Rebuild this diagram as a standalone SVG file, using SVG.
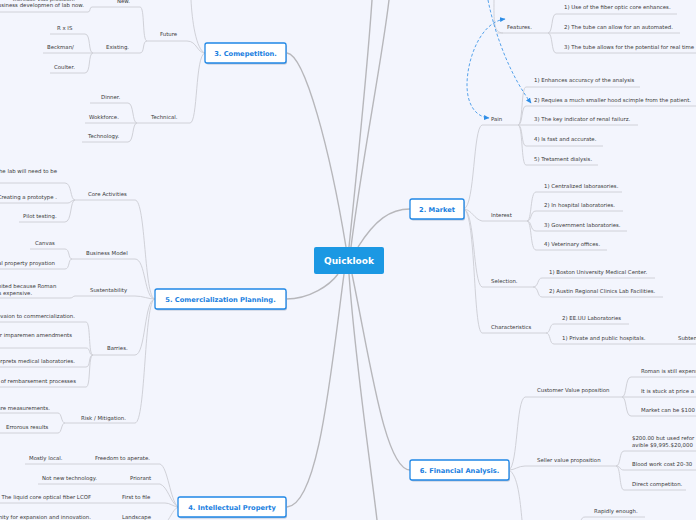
<svg xmlns="http://www.w3.org/2000/svg" width="696" height="520" viewBox="0 0 696 520">
<style>
.c{fill:none;stroke:#b7b7bb;stroke-width:1.4}
.s{fill:none;stroke:#d0d1d8;stroke-width:1}
.u{stroke:#d0d1d8;stroke-width:1}
.t{font-family:"DejaVu Sans",sans-serif;font-size:5.4px;fill:#3a3a3a}
.e{text-anchor:end}
.mb{fill:#fff;stroke:#1f87e6;stroke-width:1.3}
.sh{fill:#b9c4d6}
.mt{font-family:"DejaVu Sans",sans-serif;font-size:6.7px;font-weight:bold;fill:#1b7fdf;text-anchor:middle}
.rel{fill:none;stroke:#2d8de6;stroke-width:0.8;stroke-dasharray:3 2}
</style>
<defs>
<marker id="ar" viewBox="0 0 6 6" refX="5" refY="3" markerWidth="6" markerHeight="6" markerUnits="userSpaceOnUse" orient="auto-start-reverse">
<path d="M0,0.5 L5.5,3 L0,5.5 Z" fill="#2d8de6"/>
</marker>
</defs>
<rect width="696" height="520" fill="#f3f5fd"/>

<g id="connectors">
<!-- main -->
<path class="c" d="M287 53 C305 55,330 150,346 247"/>
<path class="c" d="M349 247 C358 160,368 60,372 0"/>
<path class="c" d="M351 247 C362 160,382 60,389 0"/>
<path class="c" d="M358 247 C375 220,390 209,410 209"/>
<path class="c" d="M286 299 C310 299,330 285,338 274"/>
<path class="c" d="M344 274 C330 380,318 505,287 507"/>
<path class="c" d="M349 274 C355 360,370 460,377 520"/>
<path class="c" d="M352 274 C370 360,385 470,410 470"/>
<!-- competition -->
<path class="s" d="M205 53 C197 53,197 41,187 41"/>
<path class="s" d="M205 53 C195 55,198 123,190 123"/>
<path class="s" d="M205 53 C196 50,192 20,191 0"/>
<path class="s" d="M147 41 C142 41,145 7,140 7"/>
<path class="s" d="M147 41 C142 41,145 53,140 53"/>
<path class="s" d="M92 7 C89 7,91 12,88 12"/>
<path class="s" d="M93 53 C88 53,91 34,85 34"/>
<path class="s" d="M93 53 C88 53,91 73,85 73"/>
<path class="s" d="M137 123 C132 123,134 103,128 103"/>
<path class="s" d="M137 123 C132 123,134 142,128 142"/>
<!-- commercialization -->
<path class="s" d="M155 299 C144 299,146 200,135 200"/>
<path class="s" d="M155 299 C144 299,146 259,135 259"/>
<path class="s" d="M155 299 C148 299,143 296,135 296"/>
<path class="s" d="M155 299 C144 299,146 355,135 355"/>
<path class="s" d="M155 299 C144 299,146 423,135 423"/>
<path class="s" d="M75 200 C70 200,72 183,65 183"/>
<path class="s" d="M75 200 C71 200,71 203,68 203"/>
<path class="s" d="M75 200 C70 200,72 222,65 222"/>
<path class="s" d="M72 259 C68 259,70 249,65 249"/>
<path class="s" d="M72 259 C68 259,70 269,65 269"/>
<path class="s" d="M75 296 C73 296,73 298,70 298"/>
<path class="s" d="M93 355 C88 355,91 322,86 322"/>
<path class="s" d="M93 355 C88 355,91 348,86 348"/>
<path class="s" d="M93 355 C88 355,91 367,86 367"/>
<path class="s" d="M93 355 C88 355,91 387,86 387"/>
<path class="s" d="M65 423 C61 423,62 413,58 413"/>
<path class="s" d="M65 423 C61 423,62 433,58 433"/>
<!-- intellectual property -->
<path class="s" d="M178 507 C170 500,168 467,160 464"/>
<path class="s" d="M178 507 C170 502,168 487,160 484"/>
<path class="s" d="M178 507 C172 506,170 503,165 503"/>
<path class="s" d="M178 507 C172 510,170 520,165 523"/>
<!-- market -->
<path class="s" d="M464 209 C475 205,473 128,482 125"/>
<path class="s" d="M464 209 C472 210,474 219,482 221"/>
<path class="s" d="M464 209 C475 212,473 283,482 287"/>
<path class="s" d="M464 209 C476 215,473 330,482 333"/>
<path class="s" d="M494 0 C494 20,493 33,503 33"/>
<path class="s" d="M548 33 C553 33,551 14,556 14"/>
<path class="s" d="M548 33 C553 33,551 53,556 53"/>
<path class="s" d="M518 125 C523 125,521 87,526 87"/>
<path class="s" d="M518 125 C523 125,521 106,526 106"/>
<path class="s" d="M518 125 C523 125,521 146,526 146"/>
<path class="s" d="M518 125 C523 125,521 165,526 165"/>
<path class="s" d="M527 221 C532 221,530 192,536 192"/>
<path class="s" d="M527 221 C532 221,530 211,536 211"/>
<path class="s" d="M527 221 C532 221,530 231,536 231"/>
<path class="s" d="M527 221 C532 221,530 250,536 250"/>
<path class="s" d="M533 287 C539 287,537 278,542 278"/>
<path class="s" d="M533 287 C539 287,537 297,542 297"/>
<path class="s" d="M546 333 C551 333,549 324,554 324"/>
<path class="s" d="M546 333 C551 333,549 344,554 344"/>
<!-- financial -->
<path class="s" d="M509 470 C518 465,516 400,525 397"/>
<path class="s" d="M509 470 C515 470,518 466,525 466"/>
<path class="s" d="M509 470 C518 475,520 500,522 520"/>
<path class="s" d="M622 397 C627 397,625 377,631 377"/>
<path class="s" d="M622 397 C627 397,625 416,631 416"/>
<path class="s" d="M616 466 C621 466,619 451,624 451"/>
<path class="s" d="M616 466 C621 466,619 470,624 470"/>
<path class="s" d="M616 466 C621 466,619 490,624 490"/>
<path class="s" d="M585 517 C582 517,582 519,581 520"/>
<!-- relationships -->
<path class="rel" d="M488 0 C495 35,510 75,531 103" marker-end="url(#ar)"/>
<path class="rel" d="M505 19 C480 22,467 60,467 85 C467 105,476 117,489 118" marker-start="url(#ar)" marker-end="url(#ar)"/>
</g>

<g id="central">
<rect x="314" y="247" width="70" height="27" rx="2" fill="#1b98e3"/>
<text x="349" y="264" font-family="DejaVu Sans,sans-serif" font-size="9" font-weight="bold" fill="#fff" text-anchor="middle">Quicklook</text>
</g>

<g id="competition">
<rect class="sh" x="206" y="44.5" width="81" height="20" rx="2"/>
<rect class="mb" x="205" y="43" width="81" height="20" rx="2"/>
<text class="mt" x="245.5" y="55.5">3. Comepetition.</text>
</g>
<g id="market">
<rect class="sh" x="411" y="200.5" width="54" height="20" rx="2"/>
<rect class="mb" x="410" y="199" width="54" height="20" rx="2"/>
<text class="mt" x="437" y="211.5">2. Market</text>
</g>
<g id="commercialization">
<rect class="sh" x="156" y="290.5" width="131" height="20" rx="2"/>
<rect class="mb" x="155" y="289" width="131" height="20" rx="2"/>
<text class="mt" x="220.5" y="301.5">5. Comercialization Planning.</text>
</g>
<g id="intellectual">
<rect class="sh" x="179" y="498.5" width="108" height="20" rx="2"/>
<rect class="mb" x="178" y="497" width="108" height="20" rx="2"/>
<text class="mt" x="232" y="509.5">4. Intellectual Property</text>
</g>
<g id="financial">
<rect class="sh" x="411" y="461.5" width="99" height="20" rx="2"/>
<rect class="mb" x="410" y="460" width="99" height="20" rx="2"/>
<text class="mt" x="459.5" y="472.5">6. Financial Analysis.</text>
</g>

<!-- competition subtopics -->
<g id="future"><line class="u" x1="147" y1="41" x2="187" y2="41"/><text class="t" x="160" y="36">Future</text></g>
<g id="new"><line class="u" x1="92" y1="7" x2="140" y2="7"/><text class="t" x="117" y="3">New.</text></g>
<g id="new-a"><text class="t e" x="75" y="0.8">Increase vias prosition.</text></g>
<g id="new-b"><line class="u" x1="0" y1="12" x2="88" y2="12"/><text class="t e" x="84" y="7">Business developmen of lab now.</text></g>
<g id="existing"><line class="u" x1="93" y1="53" x2="140" y2="53"/><text class="t" x="106" y="49">Existing.</text></g>
<g id="rxis"><line class="u" x1="50" y1="34" x2="85" y2="34"/><text class="t" x="57" y="30">R x IS</text></g>
<g id="beckman"><line class="u" x1="43" y1="53" x2="93" y2="53"/><text class="t" x="47" y="49">Beckman/</text></g>
<g id="coulter"><line class="u" x1="50" y1="73" x2="85" y2="73"/><text class="t" x="54" y="69">Coulter.</text></g>
<g id="technical"><line class="u" x1="137" y1="123" x2="190" y2="123"/><text class="t" x="151" y="119">Technical.</text></g>
<g id="dinner"><line class="u" x1="90" y1="103" x2="128" y2="103"/><text class="t" x="101" y="99">Dinner.</text></g>
<g id="workforce"><line class="u" x1="85" y1="123" x2="137" y2="123"/><text class="t" x="89" y="119">Wokkforce.</text></g>
<g id="technology"><line class="u" x1="82" y1="142" x2="128" y2="142"/><text class="t" x="88" y="138">Technology.</text></g>

<!-- commercialization subtopics -->
<g id="core"><line class="u" x1="75" y1="200" x2="135" y2="200"/><text class="t" x="88" y="196">Core Activities</text></g>
<g id="core-1"><line class="u" x1="0" y1="183" x2="65" y2="183"/><text class="t e" x="57" y="173">The lab will need to be</text></g>
<g id="core-2"><line class="u" x1="0" y1="203" x2="68" y2="203"/><text class="t e" x="57" y="199">Creating a prototype .</text></g>
<g id="core-3"><line class="u" x1="19" y1="222" x2="65" y2="222"/><text class="t" x="23" y="218">Pilot testing.</text></g>
<g id="bm"><line class="u" x1="72" y1="259" x2="135" y2="259"/><text class="t" x="86" y="255">Business Model</text></g>
<g id="bm-1"><line class="u" x1="30" y1="249" x2="65" y2="249"/><text class="t" x="35" y="245">Canvas</text></g>
<g id="bm-2"><line class="u" x1="0" y1="269" x2="65" y2="269"/><text class="t e" x="55" y="265">Intellectual property proyation</text></g>
<g id="sust"><line class="u" x1="75" y1="296" x2="135" y2="296"/><text class="t" x="90" y="292">Sustentability</text></g>
<g id="sust-1"><line class="u" x1="0" y1="298" x2="70" y2="298"/><text class="t" x="-7" y="288">limited because Roman</text><text class="t" x="-3" y="295">is expensive.</text></g>
<g id="barries"><line class="u" x1="93" y1="355" x2="135" y2="355"/><text class="t" x="107" y="350">Barries.</text></g>
<g id="bar-1"><line class="u" x1="0" y1="322" x2="86" y2="322"/><text class="t e" x="75" y="318">Innovaion to commercialization.</text></g>
<g id="bar-2"><line class="u" x1="0" y1="348" x2="86" y2="348"/><text class="t e" x="72" y="337">Regulator imparemen amendments</text></g>
<g id="bar-3"><line class="u" x1="0" y1="367" x2="86" y2="367"/><text class="t e" x="75" y="363">Interprets medical laboratories.</text></g>
<g id="bar-4"><line class="u" x1="0" y1="387" x2="86" y2="387"/><text class="t e" x="76" y="383">Lack of rembarsement processes</text></g>
<g id="risk"><line class="u" x1="65" y1="423" x2="135" y2="423"/><text class="t" x="81" y="420">Risk / Mitigation.</text></g>
<g id="risk-1"><line class="u" x1="0" y1="413" x2="58" y2="413"/><text class="t e" x="50" y="410">Failure measurements.</text></g>
<g id="risk-2"><line class="u" x1="0" y1="433" x2="58" y2="433"/><text class="t" x="6" y="429">Errorous results</text></g>

<!-- intellectual property subtopics -->
<g id="freedom"><line class="u" x1="90" y1="464" x2="160" y2="464"/><text class="t" x="95" y="460">Freedom to aperate.</text></g>
<g id="freedom-1"><line class="u" x1="25" y1="464" x2="90" y2="464"/><text class="t" x="29" y="460">Mostly local.</text></g>
<g id="priorant"><line class="u" x1="105" y1="484" x2="160" y2="484"/><text class="t" x="130" y="480">Priorant</text></g>
<g id="priorant-1"><line class="u" x1="38" y1="484" x2="105" y2="484"/><text class="t" x="42" y="480">Not new technology.</text></g>
<g id="first"><line class="u" x1="100" y1="503" x2="165" y2="503"/><text class="t" x="122" y="499">First to file</text></g>
<g id="first-1"><line class="u" x1="0" y1="503" x2="100" y2="503"/><text class="t e" x="91" y="499">The liquid core optical fiber LCOF</text></g>
<g id="landscape"><text class="t" x="122" y="519">Landscape</text></g>
<g id="landscape-1"><text class="t e" x="91" y="519">Opportunity for expansion and innovation.</text></g>

<!-- market subtopics -->
<g id="features"><line class="u" x1="497" y1="33" x2="548" y2="33"/><text class="t" x="507" y="29">Features.</text></g>
<g id="feat-1"><line class="u" x1="556" y1="14" x2="677" y2="14"/><text class="t" x="564" y="9">1) Use of the fiber optic core enhances.</text></g>
<g id="feat-2"><line class="u" x1="548" y1="33" x2="680" y2="33"/><text class="t" x="564" y="29">2) The tube can allow for an automated.</text></g>
<g id="feat-3"><line class="u" x1="556" y1="53" x2="696" y2="53"/><text class="t" x="564" y="49">3) The tube allows for the potential for real time</text></g>
<g id="pain"><line class="u" x1="482" y1="125" x2="518" y2="125"/><text class="t" x="491" y="121">Pain</text></g>
<g id="pain-1"><line class="u" x1="526" y1="87" x2="640" y2="87"/><text class="t" x="534" y="82">1) Enhances accuracy of the analysis</text></g>
<g id="pain-2"><line class="u" x1="526" y1="106" x2="696" y2="106"/><text class="t" x="534" y="102">2) Requies a much smaller hood scimple from the patient.</text></g>
<g id="pain-3"><line class="u" x1="518" y1="125" x2="638" y2="125"/><text class="t" x="534" y="121">3) The key indicator of renal failurz.</text></g>
<g id="pain-4"><line class="u" x1="526" y1="146" x2="603" y2="146"/><text class="t" x="534" y="141">4) Is fast and accurate.</text></g>
<g id="pain-5"><line class="u" x1="526" y1="165" x2="598" y2="165"/><text class="t" x="534" y="161">5) Tretament dialysis.</text></g>
<g id="interest"><line class="u" x1="482" y1="221" x2="527" y2="221"/><text class="t" x="491" y="217">Interest</text></g>
<g id="int-1"><line class="u" x1="536" y1="192" x2="622" y2="192"/><text class="t" x="544" y="188">1) Centralized laborasories.</text></g>
<g id="int-2"><line class="u" x1="536" y1="211" x2="623" y2="211"/><text class="t" x="544" y="207">2) In hospital laboratories.</text></g>
<g id="int-3"><line class="u" x1="536" y1="231" x2="627" y2="231"/><text class="t" x="544" y="227">3) Government laboratories.</text></g>
<g id="int-4"><line class="u" x1="536" y1="250" x2="607" y2="250"/><text class="t" x="544" y="246">4) Veterinary offices.</text></g>
<g id="selection"><line class="u" x1="482" y1="287" x2="533" y2="287"/><text class="t" x="491" y="283">Selection.</text></g>
<g id="sel-1"><line class="u" x1="542" y1="278" x2="655" y2="278"/><text class="t" x="549" y="274">1) Boston University Medical Center.</text></g>
<g id="sel-2"><line class="u" x1="542" y1="297" x2="663" y2="297"/><text class="t" x="549" y="293">2) Austin Regional Clinics Lab Facilities.</text></g>
<g id="characteristics"><line class="u" x1="482" y1="333" x2="546" y2="333"/><text class="t" x="491" y="329">Characteristics</text></g>
<g id="char-1"><line class="u" x1="554" y1="324" x2="629" y2="324"/><text class="t" x="562" y="320">2) EE.UU Laboratories</text></g>
<g id="char-2"><line class="u" x1="554" y1="344" x2="660" y2="344"/><text class="t" x="562" y="340">1) Private and public hospitals.</text></g>
<g id="char-2a"><line class="u" x1="660" y1="344" x2="696" y2="344"/><text class="t" x="678" y="340">Subtema</text></g>

<!-- financial subtopics -->
<g id="customer"><line class="u" x1="525" y1="397" x2="622" y2="397"/><text class="t" x="537" y="392">Customer Value poposition</text></g>
<g id="cust-1"><line class="u" x1="631" y1="377" x2="696" y2="377"/><text class="t" x="641" y="373">Roman is still expensive</text></g>
<g id="cust-2"><line class="u" x1="622" y1="397" x2="696" y2="397"/><text class="t" x="641" y="393">It is stuck at price a</text></g>
<g id="cust-3"><line class="u" x1="631" y1="416" x2="696" y2="416"/><text class="t" x="641" y="412">Market can be $100</text></g>
<g id="seller"><line class="u" x1="525" y1="466" x2="616" y2="466"/><text class="t" x="537" y="462">Seller value proposition</text></g>
<g id="sell-1"><line class="u" x1="624" y1="451" x2="696" y2="451"/><text class="t" x="632" y="440">$200.00 but used refor</text><text class="t" x="632" y="447">avible $9,995.$20,000</text></g>
<g id="sell-2"><line class="u" x1="624" y1="470" x2="696" y2="470"/><text class="t" x="632" y="466">Blood work cost 20-30</text></g>
<g id="sell-3"><line class="u" x1="624" y1="490" x2="686" y2="490"/><text class="t" x="632" y="486">Direct competiton.</text></g>
<g id="rapidly"><line class="u" x1="585" y1="517" x2="645" y2="517"/><text class="t" x="594" y="513">Rapidly enough.</text></g>
</svg>
